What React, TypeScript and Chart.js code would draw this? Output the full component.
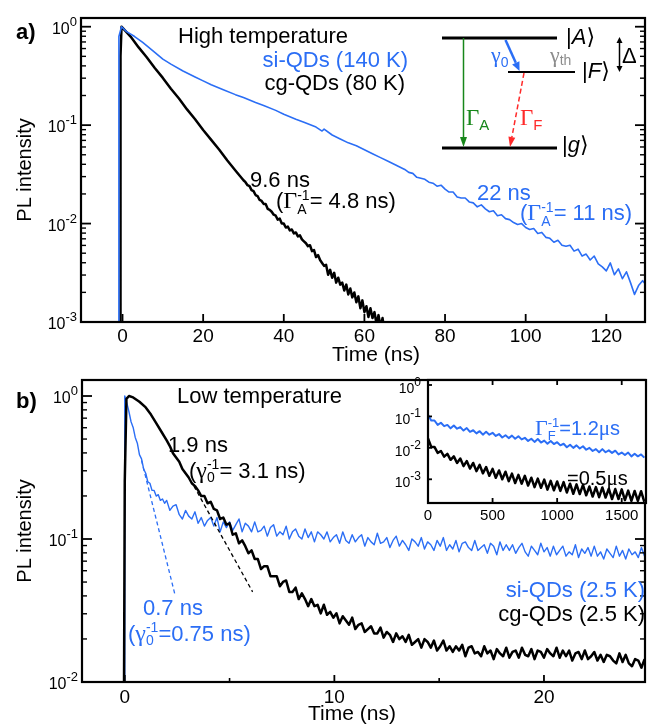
import React, { useEffect, useRef } from "react";
import { Chart, registerables } from "chart.js";
Chart.register(...registerables);

const SANS = '"Liberation Sans", Arial, Helvetica, sans-serif';
const SERIF = '"Liberation Serif", "Times New Roman", serif';
const BLUE = "#2b6ef5";
const GREEN = "#17871a";
const RED = "#ff2a2a";
const GRAY = "#8c8c8c";
const sans = (px: number, w = "") => `${w} ${px}px ${SANS}`.trim();
const serif = (px: number) => `${px}px ${SERIF}`;

// ---------------- Panel a (high temperature): [time ns, log10 PL] ----------------
const aSiQDs: number[][] = [
  [-1.05, -3.5], [-0.9, -0.1], [-0.25, 0], [1, -0.05], [3, -0.1], [5, -0.16], [8, -0.26], [10, -0.33], [12, -0.38],
  [15, -0.45], [18, -0.51], [20, -0.55], [22, -0.59], [25, -0.64], [28, -0.69], [30, -0.72], [33, -0.77], [35, -0.8],
  [38, -0.85], [40, -0.89], [43, -0.94], [45, -0.97], [48, -1.02], [49.5, -1.06], [50, -1.04], [52, -1.1], [54, -1.14],
  [56, -1.18], [58, -1.21], [60, -1.25], [62, -1.29], [64, -1.33], [66, -1.37], [68, -1.41], [70, -1.45], [71, -1.48],
  [72, -1.49], [73, -1.53], [74, -1.54], [75, -1.55], [76, -1.58], [77, -1.59], [78, -1.62], [79, -1.61], [80, -1.65],
  [81, -1.68], [82, -1.68], [83, -1.73], [84, -1.74], [85, -1.74], [86, -1.78], [87, -1.79], [88, -1.83], [89, -1.81],
  [90, -1.85], [91, -1.88], [92, -1.87], [93, -1.92], [94, -1.91], [95, -1.95], [96, -1.96], [97, -1.99], [98, -2.01],
  [99, -2.0], [100, -2.04], [101, -2.06], [102, -2.05], [103, -2.1], [104, -2.09], [105, -2.14], [106, -2.15],
  [107, -2.19], [108, -2.17], [109, -2.22], [110, -2.23], [111, -2.22], [112, -2.28], [113, -2.26], [114, -2.33],
  [115, -2.31], [116, -2.37], [117, -2.33], [118, -2.41], [119, -2.44], [120, -2.48], [121, -2.4], [122, -2.52],
  [123, -2.46], [124, -2.56], [125, -2.49], [126, -2.6], [127, -2.72], [128, -2.63], [129, -2.58], [130, -2.63],
];
const aCgQDs: number[][] = [
  [-0.6, -3.5], [-0.5, -0.3], [-0.25, 0], [2, -0.1], [4, -0.21], [6, -0.31], [8, -0.42], [10, -0.52], [12, -0.63],
  [14, -0.73], [16, -0.84], [18, -0.94], [20, -1.05], [22, -1.15], [24, -1.25], [26, -1.36], [28, -1.46], [30, -1.56],
  [30.5, -1.58], [31, -1.61], [31.5, -1.62], [32, -1.66], [32.5, -1.67], [33, -1.71], [33.5, -1.72], [34, -1.76], [34.5, -1.77], [35, -1.8],
  [35.5, -1.8], [36, -1.85], [36.5, -1.86], [37, -1.88], [37.5, -1.91], [38, -1.92], [38.5, -1.96], [39, -1.95], [39.5, -2.0], [40, -2.0],
  [40.5, -2.04], [41, -2.03], [41.5, -2.07], [42, -2.06], [42.5, -2.1], [43, -2.09], [43.5, -2.13], [44, -2.12], [44.5, -2.16], [45, -2.18],
  [45.5, -2.2], [46, -2.23], [46.5, -2.22], [47, -2.28], [47.5, -2.27], [48, -2.34], [48.5, -2.32], [49, -2.37], [49.5, -2.4], [50, -2.43],
  [50.5, -2.42], [51, -2.52], [51.5, -2.47], [52, -2.55], [52.5, -2.5], [53, -2.6], [53.5, -2.55], [54, -2.62], [54.5, -2.6], [55, -2.68],
  [55.5, -2.62], [56, -2.72], [56.5, -2.66], [57, -2.75], [57.5, -2.7], [58, -2.8], [58.5, -2.74], [59, -2.86], [59.5, -2.78], [60, -2.9],
  [60.5, -2.84], [61, -2.95], [61.5, -2.86], [62, -2.96], [62.5, -2.9], [63, -3.02], [63.5, -2.93], [64, -3.05], [64.5, -2.96], [65, -3.1],
];
const aXTicks = [0, 20, 40, 60, 80, 100, 120];
const aYDecades = [0, -1, -2, -3];

// ---------------- Panel b (low temperature) ----------------
const bSiEarly: number[][] = [
  [-0.03, -2.6], [0, 0], [0.1, -0.05], [0.2, -0.11], [0.3, -0.18], [0.4, -0.22], [0.5, -0.29], [0.6, -0.33],
  [0.7, -0.41], [0.8, -0.44], [0.9, -0.51], [1.0, -0.54], [1.1, -0.6], [1.2, -0.61], [1.3, -0.66], [1.4, -0.66],
  [1.5, -0.7], [1.6, -0.69], [1.7, -0.73], [1.8, -0.72], [1.9, -0.75],
];
const bCgEarly: number[][] = [
  [-0.05, -2.6], [0.0, -0.6], [0.08, -0.02], [0.2, 0], [0.4, -0.01], [0.7, -0.04], [1.0, -0.08], [1.25, -0.13],
  [1.5, -0.19], [1.75, -0.25],
];
// sampled from 2.0 ns every 0.15 ns, values = 100 * log10(PL)
const bSampleStart = 2.0;
const bSampleStep = 0.15;
const bSiTail = [
  -73, -80, -77, -76, -83, -86, -80, -84, -86, -81,
  -89, -85, -91, -87, -85, -91, -85, -95, -88, -92,
  -88, -94, -90, -86, -95, -89, -91, -95, -88, -95,
  -94, -91, -98, -92, -90, -98, -95, -97, -91, -100,
  -95, -93, -98, -100, -93, -99, -95, -102, -95, -97,
  -100, -95, -102, -99, -97, -103, -95, -101, -103, -97,
  -102, -99, -97, -105, -99, -102, -104, -96, -103, -102,
  -99, -106, -101, -98, -105, -101, -104, -108, -100, -102,
  -105, -99, -107, -102, -104, -108, -101, -105, -99, -108,
  -104, -107, -101, -109, -103, -102, -106, -108, -101, -108,
  -106, -104, -110, -103, -105, -111, -102, -108, -104, -108,
  -104, -110, -106, -103, -109, -112, -105, -108, -111, -103,
  -109, -106, -112, -105, -111, -108, -105, -112, -109, -111,
  -104, -113, -107, -110, -106, -112, -105, -112, -109, -114,
  -107, -110, -113, -105, -112, -108, -114, -107, -111, -109,
  -113, -106, -112,
];
const bCgTail = [
  -31, -35, -40, -43, -46, -51, -54, -57, -61, -63,
  -66, -70, -70, -75, -74, -79, -80, -86, -85, -90,
  -89, -97, -96, -103, -101, -105, -110, -108, -114, -114,
  -121, -119, -119, -126, -126, -126, -133, -130, -129, -137,
  -137, -134, -142, -138, -142, -147, -142, -147, -146, -152,
  -146, -153, -151, -155, -152, -159, -154, -157, -160, -155,
  -163, -160, -159, -165, -163, -161, -166, -166, -162, -169,
  -165, -167, -172, -166, -170, -168, -172, -167, -174, -172,
  -170, -176, -170, -172, -176, -171, -178, -175, -171, -178,
  -175, -179, -175, -178, -174, -182, -176, -175, -180, -179,
  -182, -175, -180, -178, -184, -177, -180, -182, -176, -183,
  -179, -178, -183, -176, -181, -182, -177, -184, -178, -179,
  -183, -177, -180, -182, -176, -183, -178, -182, -178, -185,
  -180, -179, -184, -178, -184, -182, -179, -185, -181, -186,
  -181, -182, -185, -187, -180, -186, -181, -187, -189, -184,
  -185, -190, -184,
];
const bSiFit: number[][] = [[0.8, -0.45], [2.38, -1.38]];
const bCgFit: number[][] = [[3.3, -0.63], [6.1, -1.37]];
const bXMajor = [0, 10, 20];
const bXMinor = [5, 15];
const bYDecades = [0, -1, -2];

// ---------------- Inset (long time scale, ns) ----------------
const inStart = 0;
const inStep = 25;
const inSi = [
  -95, -113, -113, -127, -120, -131, -127, -138, -129, -139,
  -134, -145, -137, -149, -144, -154, -147, -158, -149, -158,
  -152, -162, -156, -167, -160, -169, -161, -171, -163, -173,
  -168, -178, -171, -181, -172, -183, -177, -187, -178, -188,
  -182, -192, -187, -198, -190, -200, -192, -202, -195, -206,
  -200, -210, -204, -214, -204, -214, -208, -216, -209, -221,
  -215, -223, -215, -227, -219, -227, -221, -231,
];
const inCg = [
  -170, -197, -197, -216, -210, -228, -219, -238, -227, -248,
  -234, -258, -242, -266, -248, -274, -254, -281, -261, -289,
  -267, -295, -272, -300, -276, -306, -282, -312, -286, -314,
  -289, -320, -295, -325, -298, -327, -301, -333, -305, -335,
  -307, -337, -309, -342, -314, -346, -316, -347, -318, -351,
  -323, -355, -325, -357, -326, -358, -330, -363, -331, -363,
  -332, -366, -336, -369, -337, -369, -338, -372,
];
const inXTicks = [0, 500, 1000, 1500];
const inYDecades = [0, -1, -2, -3];

// ---------------- helpers ----------------
const toXY = (pairs: number[][]) => pairs.map(([t, l]) => ({ x: t, y: Math.pow(10, l) }));
const sampled = (t0: number, dt: number, vals: number[]) =>
  vals.map((v, i) => ({ x: +(t0 + i * dt).toFixed(4), y: Math.pow(10, v / 100) }));

const lineDs = (data: any[], color: string, width: number, dash: number[] = []) => ({
  data, borderColor: color, backgroundColor: color, borderWidth: width, borderDash: dash,
  pointRadius: 0, fill: false, tension: 0, clip: 0, borderJoinStyle: "round", borderCapStyle: "butt",
});

type Seg = { s: string; f: string; dy?: number; sub?: Seg; sup?: Seg };
function richWidth(ctx: CanvasRenderingContext2D, segs: Seg[]) {
  let w = 0;
  for (const g of segs) {
    ctx.font = g.f; w += ctx.measureText(g.s).width;
    let e = 0;
    if (g.sub) { ctx.font = g.sub.f; e = Math.max(e, ctx.measureText(g.sub.s).width); }
    if (g.sup) { ctx.font = g.sup.f; e = Math.max(e, ctx.measureText(g.sup.s).width); }
    w += e;
  }
  return w;
}
function drawRich(ctx: CanvasRenderingContext2D, segs: Seg[], x: number, y: number, color: string, align = "left") {
  ctx.save();
  ctx.fillStyle = color; ctx.textAlign = "left"; ctx.textBaseline = "alphabetic";
  const w = richWidth(ctx, segs);
  let cx = align === "left" ? x : align === "right" ? x - w : x - w / 2;
  for (const g of segs) {
    ctx.font = g.f; ctx.fillText(g.s, cx, y + (g.dy || 0)); cx += ctx.measureText(g.s).width;
    let e = 0;
    if (g.sub) { ctx.font = g.sub.f; ctx.fillText(g.sub.s, cx, y + (g.sub.dy || 0)); e = Math.max(e, ctx.measureText(g.sub.s).width); }
    if (g.sup) { ctx.font = g.sup.f; ctx.fillText(g.sup.s, cx, y + (g.sup.dy || 0)); e = Math.max(e, ctx.measureText(g.sup.s).width); }
    cx += e;
  }
  ctx.restore();
}
function arrow(ctx: CanvasRenderingContext2D, x1: number, y1: number, x2: number, y2: number, color: string, lw: number, dash: number[], hl: number, hw: number) {
  const ang = Math.atan2(y2 - y1, x2 - x1);
  const bx = x2 - hl * Math.cos(ang), by = y2 - hl * Math.sin(ang);
  ctx.save();
  ctx.strokeStyle = color; ctx.lineWidth = lw; ctx.setLineDash(dash);
  ctx.beginPath(); ctx.moveTo(x1, y1); ctx.lineTo(bx, by); ctx.stroke();
  ctx.setLineDash([]); ctx.fillStyle = color;
  ctx.beginPath(); ctx.moveTo(x2, y2);
  ctx.lineTo(bx + (hw / 2) * Math.sin(ang), by - (hw / 2) * Math.cos(ang));
  ctx.lineTo(bx - (hw / 2) * Math.sin(ang), by + (hw / 2) * Math.cos(ang));
  ctx.closePath(); ctx.fill();
  ctx.restore();
}
function hline(ctx: CanvasRenderingContext2D, x1: number, x2: number, y: number, lw: number, color = "#000") {
  ctx.save(); ctx.strokeStyle = color; ctx.lineWidth = lw;
  ctx.beginPath(); ctx.moveTo(x1, y); ctx.lineTo(x2, y); ctx.stroke(); ctx.restore();
}

type AxisSpec = {
  xMajor: number[]; xMinor: number[]; yDec: number[]; yMinor: boolean; right: boolean; topX: boolean;
  yMaj: number; yMin: number; xMaj: number; xMin: number; frame: number;
  xFont: number; xBase: number; yFont: number; yExp: number; yGap: number; yBaseDy: number; yExpDy: number;
};
function drawAxes(chart: any, s: AxisSpec) {
  const ctx: CanvasRenderingContext2D = chart.ctx;
  const a = chart.chartArea; const xs = chart.scales.x; const ys = chart.scales.y;
  ctx.save();
  ctx.strokeStyle = "#000"; ctx.fillStyle = "#000";
  const seg = (x1: number, y1: number, x2: number, y2: number, w: number) => {
    ctx.lineWidth = w; ctx.beginPath(); ctx.moveTo(x1, y1); ctx.lineTo(x2, y2); ctx.stroke();
  };
  const lo = Math.floor(Math.log10(ys.min) + 1e-9), hi = Math.ceil(Math.log10(ys.max) - 1e-9);
  for (let d = lo; d <= hi; d++) {
    for (let m = 1; m <= 9; m++) {
      const v = m * Math.pow(10, d);
      if (v < ys.min * 0.9999 || v > ys.max * 1.0001) continue;
      const major = m === 1;
      if (!major && !s.yMinor) continue;
      const py = ys.getPixelForValue(v); const L = major ? s.yMaj : s.yMin;
      seg(a.left, py, a.left + L, py, major ? 1.8 : 1.4);
      if (s.right) seg(a.right, py, a.right - L, py, major ? 1.8 : 1.4);
    }
  }
  ctx.textBaseline = "alphabetic"; ctx.textAlign = "left";
  for (const d of s.yDec) {
    const py = ys.getPixelForValue(Math.pow(10, d));
    ctx.font = sans(s.yExp); const ew = ctx.measureText(String(d)).width;
    ctx.font = sans(s.yFont); const bw = ctx.measureText("10").width;
    const xr = a.left - s.yGap;
    ctx.fillText("10", xr - ew - bw, py + s.yBaseDy);
    ctx.font = sans(s.yExp); ctx.fillText(String(d), xr - ew, py + s.yExpDy);
  }
  for (const v of s.xMajor) {
    const px = xs.getPixelForValue(v);
    seg(px, a.bottom, px, a.bottom - s.xMaj, 1.8);
    if (s.topX) seg(px, a.top, px, a.top + s.xMaj, 1.8);
    ctx.font = sans(s.xFont); ctx.textAlign = "center";
    ctx.fillText(String(v), px, a.bottom + s.xBase);
  }
  for (const v of s.xMinor) {
    const px = xs.getPixelForValue(v);
    seg(px, a.bottom, px, a.bottom - s.xMin, 1.6);
    if (s.topX) seg(px, a.top, px, a.top + s.xMin, 1.6);
  }
  ctx.lineWidth = s.frame;
  ctx.strokeRect(a.left, a.top, a.right - a.left, a.bottom - a.top);
  ctx.restore();
}

function baseOptions(xmin: number, xmax: number, ymin: number, ymax: number, pad: any) {
  return {
    responsive: false, animation: false, events: [],
    layout: { padding: pad },
    plugins: { legend: { display: false }, tooltip: { enabled: false } },
    scales: {
      x: { type: "linear", min: xmin, max: xmax, display: false },
      y: { type: "logarithmic", min: ymin, max: ymax, display: false },
    },
  };
}

const F22 = sans(22);
const ket = (letter: string): Seg[] => [
  { s: "|", f: sans(22) },
  { s: letter, f: sans(22, "italic") },
  { s: "\u27E9", f: `22px "DejaVu Sans", ${SANS}` },
];

function drawPanelA(chart: any) {
  const ctx: CanvasRenderingContext2D = chart.ctx;
  drawAxes(chart, {
    xMajor: aXTicks, xMinor: [], yDec: aYDecades, yMinor: true, right: true, topX: false,
    yMaj: 10, yMin: 5, xMaj: 8, xMin: 4, frame: 2.2, xFont: 19, xBase: 20,
    yFont: 16, yExp: 13, yGap: 4, yBaseDy: 7, yExpDy: -1,
  });
  ctx.save();
  ctx.fillStyle = "#000"; ctx.font = sans(21); ctx.textAlign = "center"; ctx.textBaseline = "alphabetic";
  ctx.fillText("Time (ns)", 376, 361);
  ctx.save(); ctx.translate(31, 170); ctx.rotate(-Math.PI / 2); ctx.font = sans(20); ctx.fillText("PL intensity", 0, 0); ctx.restore();
  ctx.restore();
  drawRich(ctx, [{ s: "a)", f: sans(22, "bold") }], 16, 39, "#000");
  drawRich(ctx, [{ s: "High temperature", f: F22 }], 178, 43, "#000");
  drawRich(ctx, [{ s: "si-QDs (140 K)", f: F22 }], 408, 67, BLUE, "right");
  drawRich(ctx, [{ s: "cg-QDs (80 K)", f: F22 }], 405, 90, "#000", "right");
  drawRich(ctx, [{ s: "9.6 ns", f: F22 }], 250, 187, "#000");
  drawRich(ctx, [
    { s: "(", f: F22 },
    { s: "\u0393", f: serif(24), sub: { s: "A", f: sans(14), dy: 6 }, sup: { s: "-1", f: sans(14), dy: -8 } },
    { s: "= 4.8 ns)", f: F22 },
  ], 276, 208, "#000");
  drawRich(ctx, [{ s: "22 ns", f: F22 }], 477, 200, BLUE);
  drawRich(ctx, [
    { s: "(", f: F22 },
    { s: "\u0393", f: serif(24), sub: { s: "A", f: sans(14), dy: 6 }, sup: { s: "-1", f: sans(14), dy: -8 } },
    { s: "= 11 ns)", f: F22 },
  ], 520, 220, BLUE);

  // energy level diagram
  hline(ctx, 442, 557, 38, 3);
  hline(ctx, 508, 575, 72, 2);
  hline(ctx, 442, 557, 148, 3);
  arrow(ctx, 463.5, 38, 463.5, 147, GREEN, 1.5, [], 10, 7);
  arrow(ctx, 524, 73, 510, 147, RED, 1.5, [5, 3], 10, 7);
  arrow(ctx, 505.5, 40, 519.5, 71, BLUE, 2.5, [], 9, 8);
  arrow(ctx, 619.5, 55, 619.5, 37, "#000", 1.5, [], 6, 6);
  arrow(ctx, 619.5, 55, 619.5, 72, "#000", 1.5, [], 6, 6);
  drawRich(ctx, ket("A"), 566, 44, "#000");
  drawRich(ctx, ket("F"), 582, 78, "#000");
  drawRich(ctx, ket("g"), 562, 152, "#000");
  drawRich(ctx, [{ s: "\u0394", f: sans(22) }], 622, 63, "#000");
  drawRich(ctx, [{ s: "\u03B3", f: serif(22), sub: { s: "0", f: sans(14), dy: 5 } }], 491, 62, BLUE);
  drawRich(ctx, [{ s: "\u03B3", f: serif(22), sub: { s: "th", f: sans(14), dy: 3 } }], 550, 62, GRAY);
  drawRich(ctx, [{ s: "\u0393", f: serif(23), sub: { s: "A", f: sans(15), dy: 5 } }], 466, 125, GREEN);
  drawRich(ctx, [{ s: "\u0393", f: serif(23), sub: { s: "F", f: sans(15), dy: 5 } }], 520, 125, RED);
}

function drawPanelB(chart: any) {
  const ctx: CanvasRenderingContext2D = chart.ctx;
  drawAxes(chart, {
    xMajor: bXMajor, xMinor: bXMinor, yDec: bYDecades, yMinor: true, right: true, topX: false,
    yMaj: 10, yMin: 5, xMaj: 7, xMin: 4, frame: 2.2, xFont: 19, xBase: 21,
    yFont: 16, yExp: 13, yGap: 4, yBaseDy: 7, yExpDy: -1,
  });
  ctx.save();
  ctx.translate(0, -370);
  ctx.fillStyle = "#000"; ctx.font = sans(21); ctx.textAlign = "center"; ctx.textBaseline = "alphabetic";
  ctx.fillText("Time (ns)", 352, 720);
  ctx.save(); ctx.translate(31, 531); ctx.rotate(-Math.PI / 2); ctx.font = sans(20); ctx.fillText("PL intensity", 0, 0); ctx.restore();
  drawRich(ctx, [{ s: "b)", f: sans(22, "bold") }], 16, 408, "#000");
  drawRich(ctx, [{ s: "Low temperature", f: F22 }], 177, 403, "#000");
  drawRich(ctx, [{ s: "1.9 ns", f: F22 }], 168, 452, "#000");
  drawRich(ctx, [
    { s: "(", f: F22 },
    { s: "\u03B3", f: serif(24), sub: { s: "0", f: sans(14), dy: 4 }, sup: { s: "-1", f: sans(14), dy: -9 } },
    { s: "= 3.1 ns)", f: F22 },
  ], 189, 478, "#000");
  drawRich(ctx, [{ s: "0.7 ns", f: F22 }], 143, 615, BLUE);
  drawRich(ctx, [
    { s: "(", f: F22 },
    { s: "\u03B3", f: serif(24), sub: { s: "0", f: sans(14), dy: 4 }, sup: { s: "-1", f: sans(14), dy: -9 } },
    { s: "=0.75 ns)", f: F22 },
  ], 128, 641, BLUE);
  drawRich(ctx, [{ s: "si-QDs (2.5 K)", f: F22 }], 645, 597, BLUE, "right");
  drawRich(ctx, [{ s: "cg-QDs (2.5 K)", f: F22 }], 645, 621, "#000", "right");
  ctx.restore();
}

const IN_LEFT = 390;
const IN_TOP = 364;

function drawInset(chart: any) {
  const ctx: CanvasRenderingContext2D = chart.ctx;
  drawAxes(chart, {
    xMajor: inXTicks, xMinor: [], yDec: inYDecades, yMinor: false, right: false, topX: true,
    yMaj: 4, yMin: 2, xMaj: 5, xMin: 3, frame: 2.2, xFont: 15, xBase: 17,
    yFont: 14, yExp: 12, yGap: 7, yBaseDy: 8, yExpDy: 1,
  });
  ctx.save();
  ctx.translate(-IN_LEFT, -IN_TOP);
  drawRich(ctx, [
    { s: "\u0393", f: serif(22), sub: { s: "F", f: sans(13), dy: 5 }, sup: { s: "-1", f: sans(13), dy: -8 } },
    { s: "=1.2", f: sans(20) }, { s: "\u03BC", f: serif(21) }, { s: "s", f: sans(20) },
  ], 535, 435, BLUE);
  drawRich(ctx, [{ s: "=0.5", f: sans(20) }, { s: "\u03BC", f: serif(21) }, { s: "s", f: sans(20) }], 567, 485, "#000");
  ctx.restore();
}

export default function App() {
  const aRef = useRef<HTMLCanvasElement>(null);
  const bRef = useRef<HTMLCanvasElement>(null);
  const iRef = useRef<HTMLCanvasElement>(null);

  useEffect(() => {
    const charts: any[] = [];
    charts.push(new Chart(aRef.current as any, {
      type: "line",
      data: {
        datasets: [
          lineDs(toXY(aSiQDs), BLUE, 1.6),
          lineDs(toXY(aCgQDs), "#000", 2.5),
        ],
      },
      options: baseOptions(-10.3, 129.6, 1e-3, 1.226, { left: 81, top: 18, right: 3, bottom: 48 }) as any,
      plugins: [{ id: "decoA", afterDraw: (c: any) => drawPanelA(c) }],
    }));
    charts.push(new Chart(bRef.current as any, {
      type: "line",
      data: {
        datasets: [
          lineDs(toXY(bSiFit), BLUE, 1.3, [4, 3]),
          lineDs(toXY(bCgFit), "#000", 1.3, [4, 3]),
          lineDs([...toXY(bCgEarly), ...sampled(bSampleStart, bSampleStep, bCgTail)], "#000", 2.5),
          lineDs([...toXY(bSiEarly), ...sampled(bSampleStart, bSampleStep, bSiTail)], BLUE, 1.4),
        ],
      },
      options: baseOptions(-2.04, 24.82, 1e-2, 1.294, { left: 82, top: 10, right: 3, bottom: 44 }) as any,
      plugins: [{ id: "decoB", afterDraw: (c: any) => drawPanelB(c) }],
    }));
    charts.push(new Chart(iRef.current as any, {
      type: "line",
      data: {
        datasets: [
          lineDs(sampled(inStart, inStep, inSi), BLUE, 2),
          lineDs(sampled(inStart, inStep, inCg), "#000", 2.5),
        ],
      },
      options: baseOptions(0, 1688, 1.76e-4, 1.442, { left: 38, top: 380 - IN_TOP, right: 2, bottom: 162 - (503 - IN_TOP) }) as any,
      plugins: [{
        id: "decoI",
        beforeDraw: (c: any) => {
          const a = c.chartArea; const ctx = c.ctx;
          ctx.save(); ctx.fillStyle = "#fff"; ctx.fillRect(a.left, a.top, a.right - a.left, a.bottom - a.top); ctx.restore();
        },
        afterDraw: (c: any) => drawInset(c),
      }],
    }));
    return () => charts.forEach((c) => c.destroy());
  }, []);

  return (
    <div style={{ position: "absolute", left: 0, top: 0, width: 648, height: 726, background: "#fff", overflow: "hidden" }}>
      <canvas ref={aRef} width={648} height={370} style={{ position: "absolute", left: 0, top: 0 }} />
      <canvas ref={bRef} width={648} height={356} style={{ position: "absolute", left: 0, top: 370 }} />
      <canvas ref={iRef} width={258} height={162} style={{ position: "absolute", left: IN_LEFT, top: IN_TOP }} />
    </div>
  );
}
